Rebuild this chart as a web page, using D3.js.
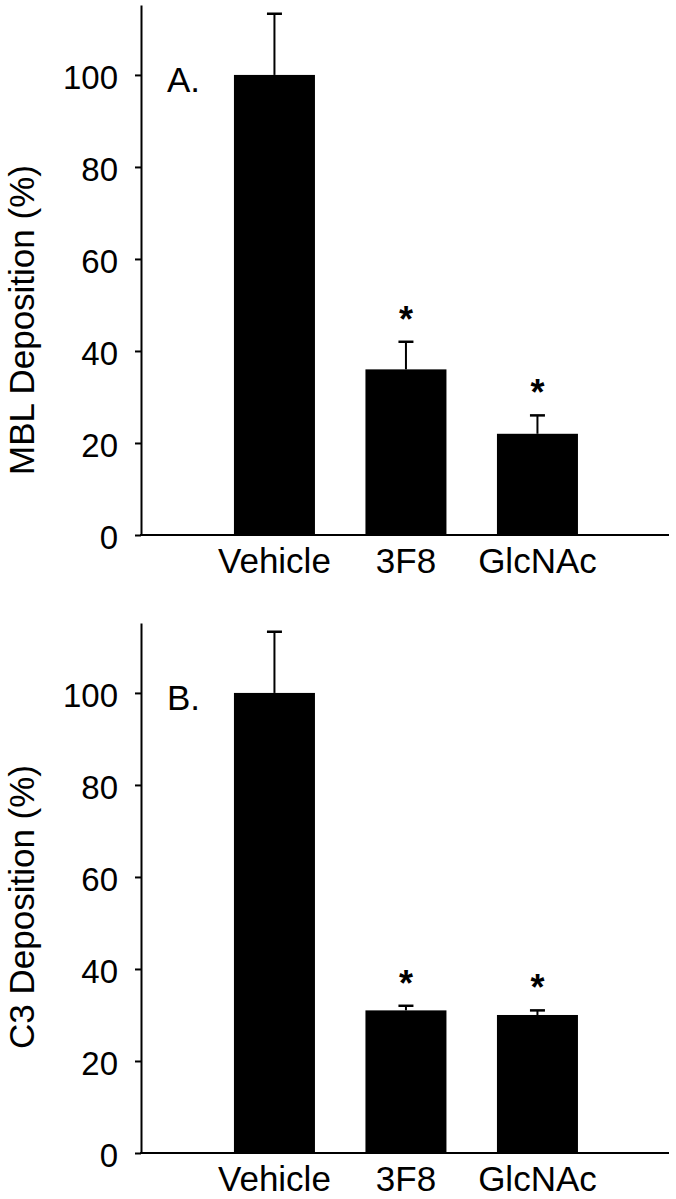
<!DOCTYPE html>
<html>
<head>
<meta charset="utf-8">
<script src="https://cdn.jsdelivr.net/npm/d3@7"></script>
<style>
  html, body { margin: 0; padding: 0; background: #fff; }
  svg { display: block; }
  text { font-family: "Liberation Sans", Arial, Helvetica, sans-serif; fill: #000; }
</style>
</head>
<body>
<script>
// ---- data ----
const categories = ["Vehicle", "3F8", "GlcNAc"];
const mblMean = [100, 36, 22];
const mblErr = [13.3, 6, 4];
const c3Mean = [100, 31, 30];
const c3Err = [13.3, 1, 1];
const significant = [false, true, true];
const yTicks = [0, 20, 40, 60, 80, 100];
const panelLabels = ["A.", "B."];
const yTitles = ["MBL Deposition (%)", "C3 Deposition (%)"];

const W = 676, H = 1199;
const svg = d3.select("body").append("svg")
  .attr("width", W).attr("height", H)
  .style("background", "#fff");

const panels = [
  { mean: mblMean, err: mblErr, label: panelLabels[0], title: yTitles[0], dy: 0, titleY: 320 },
  { mean: c3Mean, err: c3Err, label: panelLabels[1], title: yTitles[1], dy: 618, titleY: 289 }
];

const axisX = 141;
const x = d3.scaleBand()
  .domain(categories)
  .range([208.7, 603.2])
  .paddingInner(0.384)
  .paddingOuter(0.192);

const y = d3.scaleLinear().domain([0, 115.2]).range([535, 5]);

panels.forEach(p => {
  const g = svg.append("g").attr("transform", `translate(0,${p.dy})`);

  // bars
  g.selectAll("rect.bar").data(categories).join("rect")
    .attr("class", "bar")
    .attr("x", d => x(d))
    .attr("width", x.bandwidth())
    .attr("y", (d, i) => y(p.mean[i]))
    .attr("height", (d, i) => y(0) - y(p.mean[i]))
    .attr("fill", "#000");

  // error bars (upper only)
  const cap = 15;
  categories.forEach((c, i) => {
    const cx = x(c) + x.bandwidth() / 2;
    const top = y(p.mean[i] + p.err[i]);
    g.append("line")
      .attr("x1", cx).attr("x2", cx)
      .attr("y1", y(p.mean[i])).attr("y2", top)
      .attr("stroke", "#000").attr("stroke-width", 2);
    g.append("line")
      .attr("x1", cx - cap / 2).attr("x2", cx + cap / 2)
      .attr("y1", top).attr("y2", top)
      .attr("stroke", "#000").attr("stroke-width", 2.5);
    if (significant[i]) {
      g.append("text")
        .attr("x", cx).attr("y", top - 10)
        .attr("text-anchor", "middle")
        .style("font-size", "36px")
        .style("font-weight", "bold")
        .text("*");
    }
  });

  // y axis
  const ax = g.append("g")
    .attr("transform", `translate(${axisX},0)`)
    .call(d3.axisLeft(y).tickValues(yTicks).tickSize(6).tickSizeOuter(0).tickPadding(17));
  ax.select(".domain").attr("stroke", "#000").attr("stroke-width", 2);
  ax.selectAll(".tick line").attr("stroke", "#000").attr("stroke-width", 2);
  ax.selectAll(".tick text")
    .attr("dy", "0.4em")
    .style("font-size", "33px")
    .style("font-family", "'Liberation Sans', Arial, sans-serif")
    .attr("fill", "#000");

  // x baseline
  g.append("line")
    .attr("x1", axisX - 1).attr("x2", 669)
    .attr("y1", y(0)).attr("y2", y(0))
    .attr("stroke", "#000").attr("stroke-width", 2);

  // category labels
  g.selectAll("text.cat").data(categories).join("text")
    .attr("class", "cat")
    .attr("x", d => x(d) + x.bandwidth() / 2)
    .attr("y", y(0) + 38)
    .attr("text-anchor", "middle")
    .style("font-size", "35px")
    .text(d => d);

  // panel label
  g.append("text")
    .attr("x", 167).attr("y", 92)
    .style("font-size", "35px")
    .text(p.label);

  // y title
  g.append("text")
    .attr("transform", `translate(34,${p.titleY}) rotate(-90)`)
    .attr("text-anchor", "middle")
    .style("font-size", "35px")
    .text(p.title);
});
</script>
</body>
</html>
